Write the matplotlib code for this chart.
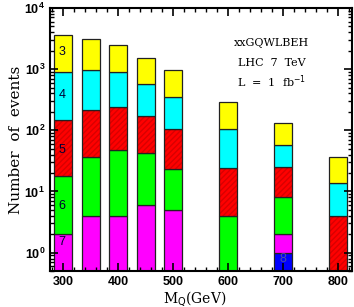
import numpy as np
import matplotlib
matplotlib.use('Agg')
import matplotlib.pyplot as plt
from matplotlib.ticker import MultipleLocator, LogLocator, NullFormatter

nan = np.nan
mass = [300, 350, 400, 450, 500, 600, 700, 800]

# upper edge of each stacked layer (bottom layer first), nan = layer absent
top8 = [nan, nan, nan, nan, nan, nan, 1.0, nan]
top7 = [2.0, 4.0, 4.0, 6.0, 5.0, nan, 2.0, nan]
top6 = [18, 36, 48, 42, 23, 4.0, 8.0, nan]
top5 = [148, 215, 244, 174, 104, 24, 25, 4.0]
top4 = [910, 967, 886, 565, 347, 104, 58, 14]
top3 = [3550, 3060, 2520, 1535, 957, 287, 131, 37]

layers = [('8', top8, '#0000ff'), ('7', top7, '#ff00ff'), ('6', top6, '#00ff00'),
          ('5', top5, '#ff0000'), ('4', top4, '#00ffff'), ('3', top3, '#ffff00')]
label_pos = {'3': (298, 1900), '4': (298, 380), '5': (298, 48),
             '6': (298, 5.8), '7': (298, 1.47), '8': (700, 0.78)}

serif = 'DejaVu Serif'
fig = plt.figure(figsize=(3.54, 3.07), dpi=100)
ax = fig.add_axes([0.141, 0.117, 0.853, 0.857])

floor = np.full(len(mass), 0.1)
for name, tops, col in layers:
    tops = np.array(tops, dtype=float)
    ok = ~np.isnan(tops)
    x = np.array(mass)[ok]
    h = tops[ok] - floor[ok]
    if name == '5':
        ax.bar(x, h, bottom=floor[ok], width=33, color=col, edgecolor='#d80000',
               hatch='//////', linewidth=0)
        ax.bar(x, h, bottom=floor[ok], width=33, fill=False, edgecolor='#222222',
               linewidth=0.9)
    else:
        ax.bar(x, h, bottom=floor[ok], width=33, color=col, edgecolor='#222222',
               linewidth=0.9)
    floor[ok] = tops[ok]

for name, (tx, ty) in label_pos.items():
    ax.text(tx, ty, name, ha='center', va='center', fontsize=9, zorder=5,
            family='Liberation Sans', color='#000033' if name != '8' else '#5050a0')

ax.set_yscale('log')
ax.set_xlim(276, 825)
ax.set_ylim(0.5, 1e4)
ax.xaxis.set_major_locator(MultipleLocator(100))
ax.xaxis.set_minor_locator(MultipleLocator(20))
ax.yaxis.set_major_locator(LogLocator(base=10, numticks=10))
ax.yaxis.set_minor_locator(LogLocator(base=10, subs=np.arange(2, 10), numticks=20))
ax.yaxis.set_minor_formatter(NullFormatter())
ax.tick_params(which='both', direction='in', top=True, right=True)
ax.tick_params(which='major', length=6, width=1.2)
ax.tick_params(which='minor', length=3, width=1)
for lab in ax.get_xticklabels() + ax.get_yticklabels():
    lab.set_family('Liberation Sans')
    lab.set_fontweight('bold')
    lab.set_fontsize(9)
for s in ax.spines.values():
    s.set_linewidth(1.5)

ax.set_xlabel(r'M$_{\rm Q}$(GeV)', family=serif, fontsize=10, labelpad=0)
ax.xaxis.set_label_coords(0.48, -0.068)
ax.set_ylabel('Number  of  events', family=serif, fontsize=11, labelpad=1)

ax.text(0.735, 0.867, 'xxGQWLBEH', transform=ax.transAxes, ha='center', va='center',
        family=serif, fontsize=8)
ax.text(0.735, 0.79, 'LHC  7  TeV', transform=ax.transAxes, ha='center', va='center',
        family=serif, fontsize=8)
ax.text(0.735, 0.72, r'L  =  1  fb$^{-1}$', transform=ax.transAxes, ha='center', va='center',
        family=serif, fontsize=8)

fig.savefig('out.png', dpi=100)
